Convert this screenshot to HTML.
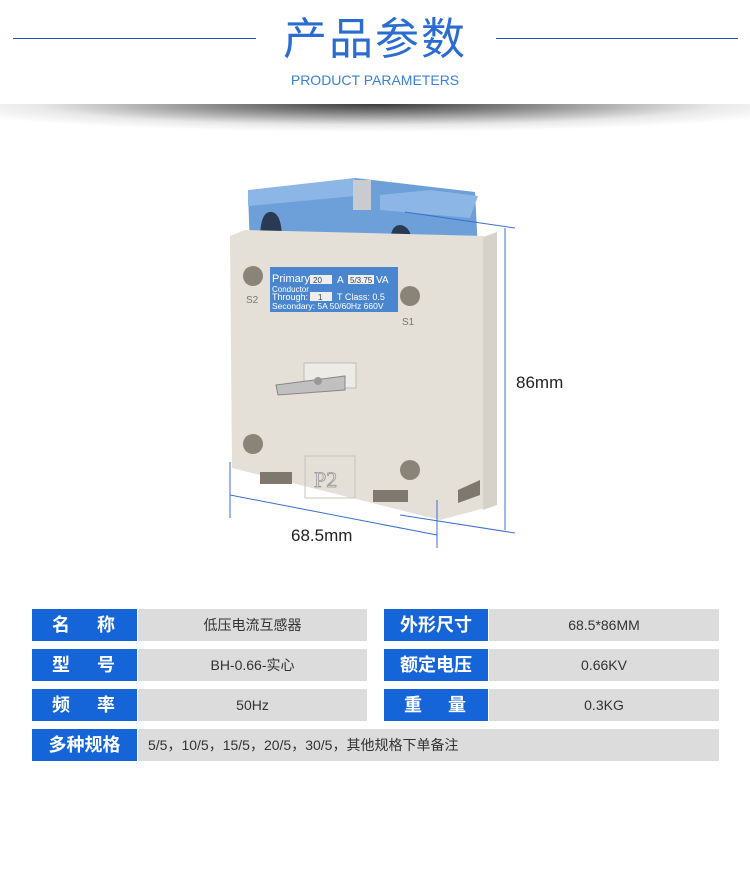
<!DOCTYPE html>
<html><head><meta charset="utf-8"><style>
body{margin:0;width:750px;height:877px;background:#fff;position:relative;overflow:hidden;font-family:"Liberation Sans","Noto Sans CJK SC",sans-serif}
.abs{position:absolute}
.lab{position:absolute;background:#1565d8;color:#fff;font-size:18px;font-weight:bold;height:32px;line-height:32px;text-align:center;box-sizing:border-box}
.sp{display:flex;justify-content:space-between;padding:0 22px 0 20px}
.val{position:absolute;background:#dcdcdc;color:#333;font-size:14px;height:32px;line-height:32px;text-align:center}
</style></head><body>
<div class="abs" style="left:13px;top:38px;width:243px;height:1px;background:#2a4fb0"></div>
<div class="abs" style="left:496px;top:38px;width:242px;height:1px;background:#2a4fb0"></div>
<div class="abs" style="left:0;top:14px;width:750px;text-align:center;font-size:44px;color:#2b6cd0;letter-spacing:2px;line-height:52px">产品参数</div>
<div class="abs" style="left:0;top:71px;width:750px;text-align:center;font-size:14px;color:#3a80d8;line-height:18px">PRODUCT PARAMETERS</div>
<div class="abs" style="left:0;top:104px;width:750px;height:28px;background:radial-gradient(ellipse 60% 100% at 50% 0%,#3a3a3a 0%,#888 35%,#e8e8e8 75%,#fff 100%)"></div>
<svg class="abs" style="left:0;top:0" width="750" height="600">
<path d="M248 192 L355 178 L475 192 L478 250 L470 262 L250 250 Z" fill="#6d9fd8"/>
<path d="M248 190 L355 178 L355 196 L248 206Z" fill="#8cb6e6"/>
<path d="M380 195 L430 190 L478 196 L470 218 L380 210Z" fill="#8cb6e6"/>
<rect x="353" y="180" width="18" height="30" fill="#c8cbd0"/>
<path d="M260 240 Q260 210 272 212 Q282 214 282 240Z" fill="#2a3a55"/>
<path d="M390 245 Q390 225 400 225 Q412 226 412 246Z" fill="#2a3a55"/>
<path d="M230 236 L245 230 L485 236 L497 232 L497 505 L440 520 L232 468 Z" fill="#e4e0d8"/>
<path d="M483 238 L497 232 L497 505 L483 510Z" fill="#d6d2ca"/>
<rect x="270" y="267" width="128" height="45" fill="#4a86d0"/>
<text x="272" y="282" font-size="11" fill="#fff" font-family="Liberation Sans">Primary</text>
<rect x="310" y="275" width="22" height="9" fill="#eee"/><text x="313" y="283" font-size="8" fill="#345">20</text>
<text x="337" y="283" font-size="10" fill="#fff">A</text>
<rect x="348" y="275" width="26" height="9" fill="#eee"/><text x="350" y="283" font-size="8" fill="#345">5/3.75</text>
<text x="376" y="283" font-size="10" fill="#fff">VA</text>
<text x="272" y="292" font-size="8" fill="#fff">Conductor</text>
<text x="272" y="300" font-size="9" fill="#fff">Through:</text>
<rect x="310" y="292" width="22" height="9" fill="#eee"/><text x="318" y="300" font-size="8" fill="#345">1</text>
<text x="337" y="300" font-size="9" fill="#fff">T  Class: 0.5</text>
<text x="272" y="309" font-size="8.5" fill="#fff">Secondary: 5A  50/60Hz 660V</text>
<circle cx="253" cy="276" r="10" fill="#8a8478"/>
<circle cx="410" cy="296" r="10" fill="#8a8478"/>
<circle cx="253" cy="444" r="10" fill="#8a8478"/>
<circle cx="410" cy="470" r="10" fill="#8a8478"/>
<text x="246" y="303" font-size="10" fill="#777">S2</text>
<text x="402" y="325" font-size="10" fill="#777">S1</text>
<rect x="304" y="363" width="52" height="25" fill="#ecebe6" stroke="#bbb"/>
<path d="M276 385 L345 376 L345 390 L278 395Z" fill="#c0c0c0" stroke="#888"/>
<circle cx="318" cy="381" r="4" fill="#999"/>
<rect x="305" y="456" width="50" height="42" fill="none" stroke="#c8c4bc"/>
<text x="314" y="487" font-size="22" font-family="Liberation Serif" fill="#e4e0d8" stroke="#999" stroke-width="0.8">P2</text>
<rect x="260" y="472" width="32" height="12" fill="#7e786e"/>
<rect x="373" y="490" width="35" height="12" fill="#7e786e"/>
<path d="M458 490 L480 480 L480 495 L458 503Z" fill="#7e786e"/>
<g stroke="#3a6fd0" stroke-width="1">
<line x1="230" y1="462" x2="230" y2="518"/>
<line x1="230" y1="495" x2="437" y2="535"/>
<line x1="437" y1="500" x2="437" y2="548"/>
<line x1="405" y1="212" x2="515" y2="228"/>
<line x1="505" y1="228" x2="505" y2="530"/>
<line x1="400" y1="515" x2="515" y2="533"/>
</g>
<text x="516" y="388" font-size="17" fill="#222" font-family="Liberation Sans">86mm</text>
<text x="291" y="541" font-size="17" fill="#222" font-family="Liberation Sans">68.5mm</text>
</svg>
<div class="lab sp" style="left:32px;top:609px;width:105px"><span>名</span><span>称</span></div>
<div class="val" style="left:138px;top:609px;width:229px">低压电流互感器</div>
<div class="lab" style="left:384px;top:609px;width:104px">外形尺寸</div>
<div class="val" style="left:489px;top:609px;width:230px">68.5*86MM</div>
<div class="lab sp" style="left:32px;top:649px;width:105px"><span>型</span><span>号</span></div>
<div class="val" style="left:138px;top:649px;width:229px">BH-0.66-实心</div>
<div class="lab" style="left:384px;top:649px;width:104px">额定电压</div>
<div class="val" style="left:489px;top:649px;width:230px">0.66KV</div>
<div class="lab sp" style="left:32px;top:689px;width:105px"><span>频</span><span>率</span></div>
<div class="val" style="left:138px;top:689px;width:229px">50Hz</div>
<div class="lab sp" style="left:384px;top:689px;width:104px"><span>重</span><span>量</span></div>
<div class="val" style="left:489px;top:689px;width:230px">0.3KG</div>
<div class="lab" style="left:32px;top:729px;width:105px">多种规格</div>
<div class="val" style="left:138px;top:729px;width:581px;text-align:left;padding-left:10px;box-sizing:border-box;font-size:14px">5/5，10/5，15/5，20/5，30/5，其他规格下单备注</div>
</body></html>
